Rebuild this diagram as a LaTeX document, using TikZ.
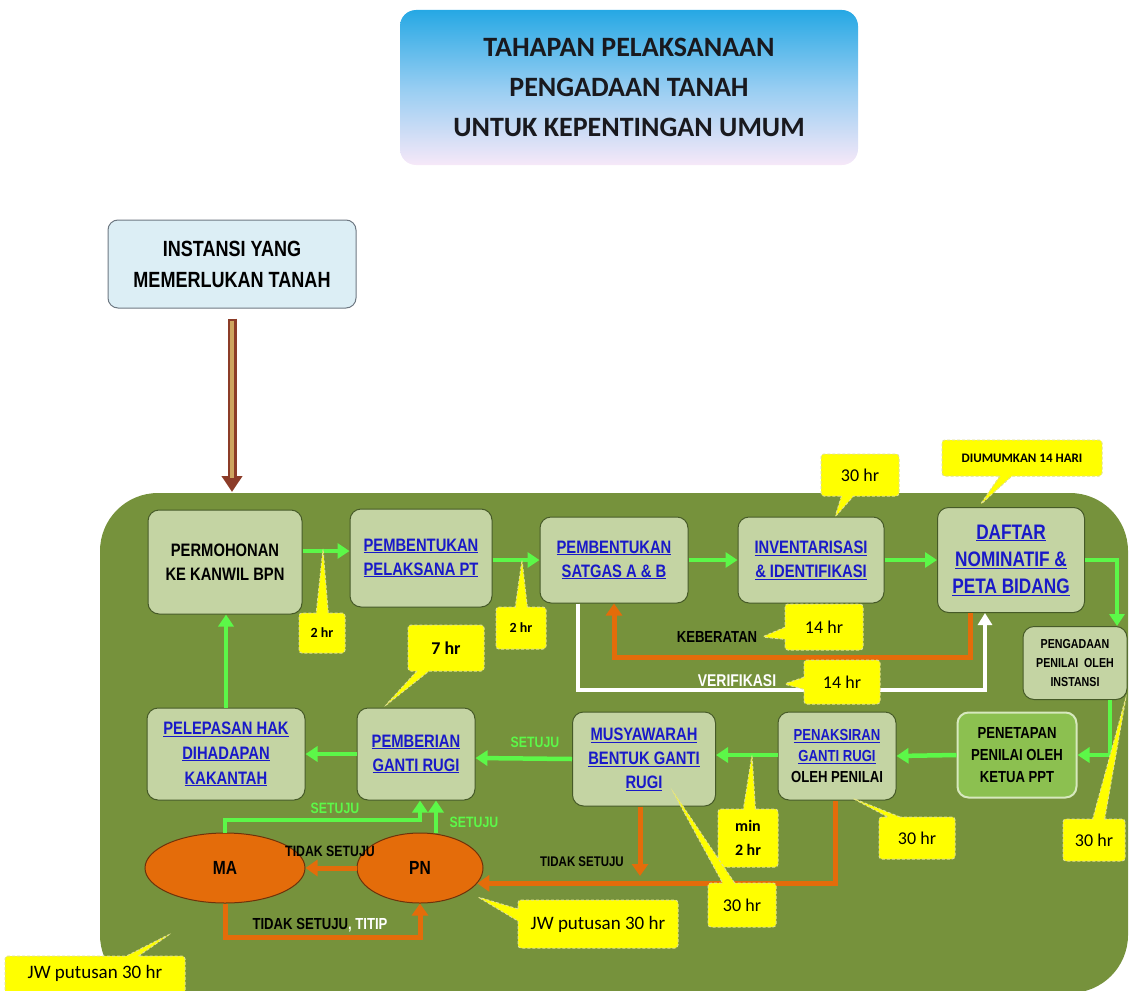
\documentclass[tikz,border=0pt]{standalone}
\usepackage{fontspec}
\setmainfont{Liberation Sans}
\newfontfamily\nar{Liberation Sans}[FakeStretch=0.82]
\newfontfamily\calib{Carlito}
\usetikzlibrary{arrows.meta,shapes.geometric,shapes.callouts,calc}
\definecolor{panel}{RGB}{118,146,60}
\definecolor{boxfill}{RGB}{196,212,163}
\definecolor{boxdraw}{RGB}{70,90,40}
\definecolor{brightg}{RGB}{92,248,72}
\definecolor{orng}{RGB}{228,108,10}
\definecolor{linkblue}{RGB}{25,25,200}
\definecolor{penfill}{RGB}{140,192,80}
\definecolor{penedge}{RGB}{215,232,190}
\definecolor{yel}{RGB}{255,255,0}
\definecolor{yeledge}{RGB}{225,225,140}
\definecolor{brwn}{RGB}{140,60,40}
\definecolor{tanc}{RGB}{205,165,95}
\definecolor{instfill}{RGB}{220,238,245}
\definecolor{instdraw}{RGB}{110,120,130}
\definecolor{titletop}{RGB}{38,168,228}
\definecolor{titlemid}{RGB}{150,205,242}
\definecolor{titlebot}{RGB}{246,232,248}
\definecolor{ellfill}{RGB}{228,108,10}
\definecolor{elldraw}{RGB}{110,50,10}
\newcommand\lk[1]{\textcolor{linkblue}{\underline{#1}}}
\begin{document}
\begin{tikzpicture}[x=1pt,y=-1pt,
 box/.style={draw=boxdraw, fill=boxfill, rounded corners=11pt, line width=1pt, align=center, inner sep=2pt, font=\nar\bfseries\fontsize{18}{24}\selectfont},
 garrow/.style={draw=brightg, line width=4.5pt, -{Triangle[length=12pt,width=15pt]}},
 oarrow/.style={draw=orng, line width=5pt, -{Triangle[length=12pt,width=16pt]}},
 warrow/.style={draw=white, line width=4pt, -{Triangle[length=12pt,width=14pt]}},
 ycall/.style={rectangle callout, fill=yel, draw=yeledge, densely dashed, line width=1pt, rounded corners=3pt, align=center, inner sep=2pt, callout pointer width=12pt, font=\calib\fontsize{18}{21}\selectfont},
 lab/.style={font=\nar\bfseries\fontsize{15}{18}\selectfont, inner sep=0pt},
 ell/.style={ellipse, fill=ellfill, draw=elldraw, line width=1pt, font=\nar\bfseries\fontsize{19}{22}\selectfont}
]
\useasboundingbox (0,0) rectangle (1129,990);

% title
\node[rounded corners=16pt, top color=titletop, bottom color=titlebot, middle color=titlemid, minimum width=458, minimum height=155, align=center, font=\calib\bfseries\fontsize{28}{40}\selectfont, text={rgb,255:red,25;green,25;blue,30}] (title) at (629,87.5) {TAHAPAN PELAKSANAAN\\PENGADAAN TANAH\\UNTUK KEPENTINGAN UMUM};

% instansi
\node[draw=instdraw, fill=instfill, rounded corners=10pt, line width=1pt, minimum width=248, minimum height=88, align=center, font=\nar\bfseries\fontsize{22}{31}\selectfont] (inst) at (232,264) {INSTANSI YANG\\MEMERLUKAN TANAH};

% panel
\fill[panel, rounded corners=58pt] (100,493) rectangle (1128,993);

% brown arrow
\coordinate (bend) at (232,492);
\draw[brwn, line width=9pt, -{Triangle[length=16pt,width=20pt]}] ([yshift=-10pt]inst.south) -- (bend);
\draw[tanc, line width=4pt] ([yshift=-12pt]inst.south) -- ([yshift=14pt]bend);

% boxes row 1
\node[box, minimum width=154, minimum height=104] (perm) at (225,562) {PERMOHONAN\\KE KANWIL BPN};
\node[box, minimum width=142, minimum height=98] (pelak) at (421,558) {\lk{PEMBENTUKAN}\\\lk{PELAKSANA PT}};
\node[box, minimum width=148, minimum height=86] (satgas) at (614,560) {\lk{PEMBENTUKAN}\\\lk{SATGAS A \& B}};
\node[box, minimum width=146, minimum height=86] (invent) at (811,560) {\lk{INVENTARISASI}\\\lk{\& IDENTIFIKASI}};
\node[box, minimum width=147, minimum height=105, font=\nar\bfseries\fontsize{21}{27}\selectfont] (daftar) at (1011,560) {\lk{DAFTAR}\\\lk{NOMINATIF \&}\\\lk{PETA BIDANG}};
% right column
\node[box, minimum width=104, minimum height=73, font=\nar\bfseries\fontsize{13}{19}\selectfont] (peng) at (1075,663) {PENGADAAN\\PENILAI~~OLEH\\INSTANSI};
\node[box, fill=penfill, draw=penedge, line width=2pt, minimum width=119, minimum height=85, font=\nar\bfseries\fontsize{16}{22}\selectfont] (penet) at (1017,755) {PENETAPAN\\PENILAI OLEH\\KETUA PPT};
% row 2
\node[box, minimum width=118, minimum height=88, font=\nar\bfseries\fontsize{16}{21}\selectfont] (penak) at (837,756) {\lk{PENAKSIRAN}\\\lk{GANTI RUGI}\\OLEH PENILAI};
\node[box, minimum width=143, minimum height=94] (musy) at (644,759) {\lk{MUSYAWARAH}\\\lk{BENTUK GANTI}\\\lk{RUGI}};
\node[box, minimum width=118, minimum height=92] (pemb) at (416,754) {\lk{PEMBERIAN}\\\lk{GANTI RUGI}};
\node[box, minimum width=158, minimum height=92, font=\nar\bfseries\fontsize{18}{25}\selectfont] (pelep) at (226,754) {\lk{PELEPASAN HAK}\\\lk{DIHADAPAN}\\\lk{KAKANTAH}};
% ellipses
\node[ell, minimum width=160, minimum height=70] (MA) at (225,868) {MA};
\node[ell, minimum width=126, minimum height=70] (PN) at (420,868) {PN};

% green arrows
\draw[garrow] ([yshift=11pt]perm.east) -- ([yshift=7pt]pelak.west);
\draw[garrow] ([yshift=-2pt]pelak.east) -- (satgas.west);
\draw[garrow] (satgas.east) -- (invent.west);
\draw[garrow] (invent.east) -- (daftar.west);
\draw[garrow] (daftar.east) -| ([xshift=42pt]peng.north);
\draw[garrow] ([xshift=35pt]peng.south) |- (penet.east);
\draw[garrow] (penet.west) -- (penak.east);
\draw[garrow] ([yshift=1pt]penak.west) -- ([yshift=4pt]musy.east);
\draw[garrow] (musy.west) -- ([yshift=-4pt]pemb.east);
\draw[garrow] (pemb.west) -- (pelep.east);
\draw[garrow] (pelep.north) -- ([xshift=1pt]perm.south);
\coordinate (sb) at (0,820);
\draw[garrow] (MA.north) |- ([xshift=4pt]pemb.south |- sb) -- ([xshift=4pt]pemb.south);
\draw[garrow] ([xshift=20pt]pemb.south |- PN.north) -- ([xshift=20pt]pemb.south);

% keberatan / verifikasi
\coordinate (kb) at (0,657);
\draw[oarrow] ([xshift=-41pt]daftar.south) |- (satgas.south |- kb) -- (satgas.south);
\coordinate (vb) at (0,690);
\draw[warrow] ([xshift=-36pt]satgas.south) |- ([xshift=-26pt]daftar.south |- vb) -- ([xshift=-26pt]daftar.south);

% orange bottom
\draw[oarrow] (PN.west) -- (MA.east);
\coordinate (tb) at (0,937);
\draw[oarrow] (MA.south) |- (PN.south |- tb) -- (PN.south);
\draw[oarrow] ([xshift=-2pt]penak.south) |- (PN.-15);
\coordinate (mend) at (640,876);
\draw[oarrow] (musy.south -| mend) -- (mend);

% labels
\node[lab, font=\nar\bfseries\fontsize{16}{18}\selectfont] (keb) at (717,637) {KEBERATAN};
\node[lab, text=white, font=\nar\bfseries\fontsize{17}{19}\selectfont] (ver) at (737,681) {VERIFIKASI};
\node[lab, text=brightg] (s1) at (535,742) {SETUJU};
\node[lab, text=brightg] (s2) at (335,808) {SETUJU};
\node[lab, text=brightg] (s3) at (474,822) {SETUJU};
\node[lab] (ts1) at (330,851) {TIDAK SETUJU};
\node[lab, font=\nar\bfseries\fontsize{16}{18}\selectfont] (ts2) at (320,925) {TIDAK SETUJU\textcolor{white}{, TITIP}};
\node[lab, font=\nar\bfseries\fontsize{14}{18}\selectfont] (ts3) at (582,862) {TIDAK SETUJU};

% callouts
\coordinate (p1) at (323,549);
\node[ycall, font=\calib\bfseries\fontsize{14}{16}\selectfont, minimum width=46, minimum height=40, callout absolute pointer={(p1)}] (c1) at (322,633) {2 hr};
\coordinate (p2) at (522,560);
\node[ycall, font=\calib\bfseries\fontsize{14}{16}\selectfont, minimum width=50, minimum height=42, callout absolute pointer={(p2)}] (c2) at (521,628) {2 hr};
\coordinate (p3) at (385,706);
\node[ycall, font=\calib\bfseries\fontsize{18}{20}\selectfont, minimum width=76, minimum height=46, callout absolute pointer={(p3)}] (c3) at (446,648) {7 hr};
\coordinate (p4) at (835,517);
\node[ycall, minimum width=78, minimum height=42, callout absolute pointer={(p4)}] (c4) at (860,475) {30 hr};
\coordinate (p5) at (980,505);
\node[ycall, font=\calib\bfseries\fontsize{13}{15}\selectfont, minimum width=160, minimum height=36, callout absolute pointer={(p5)}] (c5) at (1022,458) {DIUMUMKAN 14 HARI};
\coordinate (p6) at (762,637);
\node[ycall, minimum width=78, minimum height=46, callout absolute pointer={(p6)}] (c6) at (824,627) {14 hr};
\coordinate (p7) at (784,684);
\node[ycall, minimum width=76, minimum height=44, callout absolute pointer={(p7)}] (c7) at (842,682) {14 hr};
\coordinate (p8) at (1126,697);
\node[ycall, minimum width=62, minimum height=42, callout absolute pointer={(p8)}] (c8) at (1094,840) {30 hr};
\coordinate (p9) at (752,755);
\node[ycall, font=\calib\bfseries\fontsize{16}{24}\selectfont, minimum width=60, minimum height=58, callout absolute pointer={(p9)}] (c9) at (748,838) {min\\2 hr};
\coordinate (p10) at (852,798);
\node[ycall, minimum width=76, minimum height=42, callout absolute pointer={(p10)}] (c10) at (917,838) {30 hr};
\coordinate (p11) at (672,790);
\node[ycall, minimum width=68, minimum height=44, callout absolute pointer={(p11)}] (c11) at (742,905) {30 hr};
\coordinate (p12) at (478,897);
\node[ycall, font=\calib\fontsize{19}{21}\selectfont, minimum width=160, minimum height=48, callout absolute pointer={(p12)}] (c12) at (598,924) {JW putusan 30 hr};
\coordinate (p13) at (170,934);
\node[ycall, font=\calib\fontsize{19}{21}\selectfont, minimum width=180, minimum height=44, text depth=12pt, callout absolute pointer={(p13)}] (c13) at (95,978) {JW putusan 30 hr};
\end{tikzpicture}
\end{document}
